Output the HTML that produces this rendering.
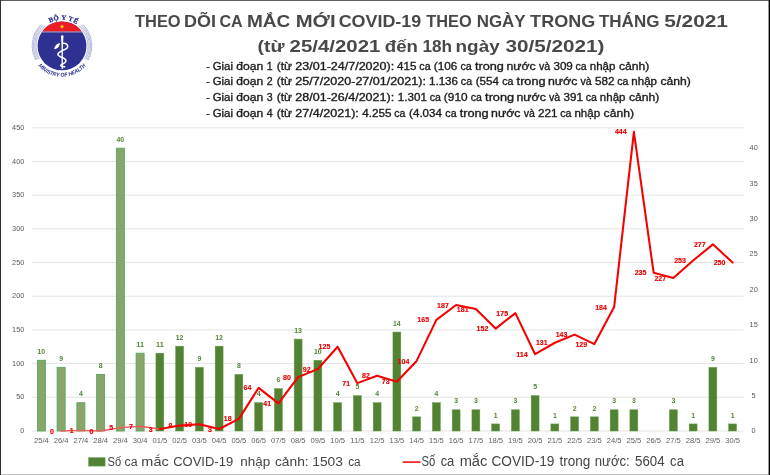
<!DOCTYPE html>
<html><head><meta charset="utf-8"><title>COVID-19</title>
<style>html,body{margin:0;padding:0;background:#fff;}body{width:770px;height:475px;overflow:hidden;position:relative;font-family:"Liberation Sans",sans-serif;}</style>
</head><body>
<svg width="770" height="475" viewBox="0 0 770 475" style="position:absolute;left:0;top:0;will-change:transform;opacity:0.999">
<rect x="0" y="0" width="770" height="475" fill="#fff"/>
<line x1="31.8" x2="743.6" y1="431.00" y2="431.00" stroke="#dcdcdc" stroke-width="0.8"/>
<text x="24.3" y="433.10" text-anchor="end" font-size="7.3" fill="#595959" font-family="Liberation Sans, sans-serif">0</text>
<line x1="31.8" x2="743.6" y1="397.31" y2="397.31" stroke="#dcdcdc" stroke-width="0.8"/>
<text x="24.3" y="399.41" text-anchor="end" font-size="7.3" fill="#595959" font-family="Liberation Sans, sans-serif">50</text>
<line x1="31.8" x2="743.6" y1="363.62" y2="363.62" stroke="#dcdcdc" stroke-width="0.8"/>
<text x="24.3" y="365.72" text-anchor="end" font-size="7.3" fill="#595959" font-family="Liberation Sans, sans-serif">100</text>
<line x1="31.8" x2="743.6" y1="329.93" y2="329.93" stroke="#dcdcdc" stroke-width="0.8"/>
<text x="24.3" y="332.03" text-anchor="end" font-size="7.3" fill="#595959" font-family="Liberation Sans, sans-serif">150</text>
<line x1="31.8" x2="743.6" y1="296.24" y2="296.24" stroke="#dcdcdc" stroke-width="0.8"/>
<text x="24.3" y="298.34" text-anchor="end" font-size="7.3" fill="#595959" font-family="Liberation Sans, sans-serif">200</text>
<line x1="31.8" x2="743.6" y1="262.56" y2="262.56" stroke="#dcdcdc" stroke-width="0.8"/>
<text x="24.3" y="264.66" text-anchor="end" font-size="7.3" fill="#595959" font-family="Liberation Sans, sans-serif">250</text>
<line x1="31.8" x2="743.6" y1="228.87" y2="228.87" stroke="#dcdcdc" stroke-width="0.8"/>
<text x="24.3" y="230.97" text-anchor="end" font-size="7.3" fill="#595959" font-family="Liberation Sans, sans-serif">300</text>
<line x1="31.8" x2="743.6" y1="195.18" y2="195.18" stroke="#dcdcdc" stroke-width="0.8"/>
<text x="24.3" y="197.28" text-anchor="end" font-size="7.3" fill="#595959" font-family="Liberation Sans, sans-serif">350</text>
<line x1="31.8" x2="743.6" y1="161.49" y2="161.49" stroke="#dcdcdc" stroke-width="0.8"/>
<text x="24.3" y="163.59" text-anchor="end" font-size="7.3" fill="#595959" font-family="Liberation Sans, sans-serif">400</text>
<line x1="31.8" x2="743.6" y1="127.80" y2="127.80" stroke="#dcdcdc" stroke-width="0.8"/>
<text x="24.3" y="129.90" text-anchor="end" font-size="7.3" fill="#595959" font-family="Liberation Sans, sans-serif">450</text>
<text x="751.6" y="433.20" font-size="7.3" fill="#595959" font-family="Liberation Sans, sans-serif">0</text>
<text x="751.6" y="397.85" font-size="7.3" fill="#595959" font-family="Liberation Sans, sans-serif">5</text>
<text x="749.6" y="362.50" font-size="7.3" fill="#595959" font-family="Liberation Sans, sans-serif">10</text>
<text x="749.6" y="327.15" font-size="7.3" fill="#595959" font-family="Liberation Sans, sans-serif">15</text>
<text x="749.6" y="291.80" font-size="7.3" fill="#595959" font-family="Liberation Sans, sans-serif">20</text>
<text x="749.6" y="256.45" font-size="7.3" fill="#595959" font-family="Liberation Sans, sans-serif">25</text>
<text x="749.6" y="221.10" font-size="7.3" fill="#595959" font-family="Liberation Sans, sans-serif">30</text>
<text x="749.6" y="185.75" font-size="7.3" fill="#595959" font-family="Liberation Sans, sans-serif">35</text>
<text x="749.6" y="150.40" font-size="7.3" fill="#595959" font-family="Liberation Sans, sans-serif">40</text>
<rect x="37.38" y="360.30" width="8.0" height="70.70" fill="#8aa56c" stroke="#56a862" stroke-width="0.9"/>
<text x="41.38" y="354.00" text-anchor="middle" textLength="7.70" lengthAdjust="spacingAndGlyphs" font-size="7.6" font-weight="bold" fill="#548235" font-family="Liberation Sans, sans-serif">10</text>
<rect x="57.12" y="367.37" width="8.0" height="63.63" fill="#8aa56c" stroke="#56a862" stroke-width="0.9"/>
<text x="61.12" y="361.07" text-anchor="middle" textLength="3.85" lengthAdjust="spacingAndGlyphs" font-size="7.6" font-weight="bold" fill="#548235" font-family="Liberation Sans, sans-serif">9</text>
<rect x="76.88" y="402.72" width="8.0" height="28.28" fill="#8aa56c" stroke="#56a862" stroke-width="0.9"/>
<text x="80.88" y="396.42" text-anchor="middle" textLength="3.85" lengthAdjust="spacingAndGlyphs" font-size="7.6" font-weight="bold" fill="#548235" font-family="Liberation Sans, sans-serif">4</text>
<rect x="96.62" y="374.44" width="8.0" height="56.56" fill="#8aa56c" stroke="#56a862" stroke-width="0.9"/>
<text x="100.62" y="368.14" text-anchor="middle" textLength="3.85" lengthAdjust="spacingAndGlyphs" font-size="7.6" font-weight="bold" fill="#548235" font-family="Liberation Sans, sans-serif">8</text>
<rect x="116.38" y="148.20" width="8.0" height="282.80" fill="#8aa56c" stroke="#56a862" stroke-width="0.9"/>
<text x="120.38" y="141.90" text-anchor="middle" textLength="7.70" lengthAdjust="spacingAndGlyphs" font-size="7.6" font-weight="bold" fill="#548235" font-family="Liberation Sans, sans-serif">40</text>
<rect x="136.12" y="353.23" width="8.0" height="77.77" fill="#8aa56c" stroke="#56a862" stroke-width="0.9"/>
<text x="140.12" y="346.93" text-anchor="middle" textLength="7.70" lengthAdjust="spacingAndGlyphs" font-size="7.6" font-weight="bold" fill="#548235" font-family="Liberation Sans, sans-serif">11</text>
<rect x="155.93" y="353.23" width="7.9" height="77.77" fill="#548235" stroke="#5f9a3c" stroke-width="0.5"/>
<text x="159.88" y="346.93" text-anchor="middle" textLength="7.70" lengthAdjust="spacingAndGlyphs" font-size="7.6" font-weight="bold" fill="#548235" font-family="Liberation Sans, sans-serif">11</text>
<rect x="175.68" y="346.16" width="7.9" height="84.84" fill="#548235" stroke="#5f9a3c" stroke-width="0.5"/>
<text x="179.62" y="339.86" text-anchor="middle" textLength="7.70" lengthAdjust="spacingAndGlyphs" font-size="7.6" font-weight="bold" fill="#548235" font-family="Liberation Sans, sans-serif">12</text>
<rect x="195.43" y="367.37" width="7.9" height="63.63" fill="#548235" stroke="#5f9a3c" stroke-width="0.5"/>
<text x="199.38" y="361.07" text-anchor="middle" textLength="3.85" lengthAdjust="spacingAndGlyphs" font-size="7.6" font-weight="bold" fill="#548235" font-family="Liberation Sans, sans-serif">9</text>
<rect x="215.18" y="346.16" width="7.9" height="84.84" fill="#548235" stroke="#5f9a3c" stroke-width="0.5"/>
<text x="219.12" y="339.86" text-anchor="middle" textLength="7.70" lengthAdjust="spacingAndGlyphs" font-size="7.6" font-weight="bold" fill="#548235" font-family="Liberation Sans, sans-serif">12</text>
<rect x="234.93" y="374.44" width="7.9" height="56.56" fill="#548235" stroke="#5f9a3c" stroke-width="0.5"/>
<text x="238.88" y="368.14" text-anchor="middle" textLength="3.85" lengthAdjust="spacingAndGlyphs" font-size="7.6" font-weight="bold" fill="#548235" font-family="Liberation Sans, sans-serif">8</text>
<rect x="254.68" y="402.72" width="7.9" height="28.28" fill="#548235" stroke="#5f9a3c" stroke-width="0.5"/>
<text x="258.62" y="396.42" text-anchor="middle" textLength="3.85" lengthAdjust="spacingAndGlyphs" font-size="7.6" font-weight="bold" fill="#548235" font-family="Liberation Sans, sans-serif">4</text>
<rect x="274.43" y="388.58" width="7.9" height="42.42" fill="#548235" stroke="#5f9a3c" stroke-width="0.5"/>
<text x="278.38" y="382.28" text-anchor="middle" textLength="3.85" lengthAdjust="spacingAndGlyphs" font-size="7.6" font-weight="bold" fill="#548235" font-family="Liberation Sans, sans-serif">6</text>
<rect x="294.18" y="339.09" width="7.9" height="91.91" fill="#548235" stroke="#5f9a3c" stroke-width="0.5"/>
<text x="298.12" y="332.79" text-anchor="middle" textLength="7.70" lengthAdjust="spacingAndGlyphs" font-size="7.6" font-weight="bold" fill="#548235" font-family="Liberation Sans, sans-serif">13</text>
<rect x="313.93" y="360.30" width="7.9" height="70.70" fill="#548235" stroke="#5f9a3c" stroke-width="0.5"/>
<text x="317.88" y="354.00" text-anchor="middle" textLength="7.70" lengthAdjust="spacingAndGlyphs" font-size="7.6" font-weight="bold" fill="#548235" font-family="Liberation Sans, sans-serif">10</text>
<rect x="333.68" y="402.72" width="7.9" height="28.28" fill="#548235" stroke="#5f9a3c" stroke-width="0.5"/>
<text x="337.62" y="396.42" text-anchor="middle" textLength="3.85" lengthAdjust="spacingAndGlyphs" font-size="7.6" font-weight="bold" fill="#548235" font-family="Liberation Sans, sans-serif">4</text>
<rect x="353.43" y="395.65" width="7.9" height="35.35" fill="#548235" stroke="#5f9a3c" stroke-width="0.5"/>
<text x="357.38" y="389.35" text-anchor="middle" textLength="3.85" lengthAdjust="spacingAndGlyphs" font-size="7.6" font-weight="bold" fill="#548235" font-family="Liberation Sans, sans-serif">5</text>
<rect x="373.18" y="402.72" width="7.9" height="28.28" fill="#548235" stroke="#5f9a3c" stroke-width="0.5"/>
<text x="377.12" y="396.42" text-anchor="middle" textLength="3.85" lengthAdjust="spacingAndGlyphs" font-size="7.6" font-weight="bold" fill="#548235" font-family="Liberation Sans, sans-serif">4</text>
<rect x="392.93" y="332.02" width="7.9" height="98.98" fill="#548235" stroke="#5f9a3c" stroke-width="0.5"/>
<text x="396.88" y="325.72" text-anchor="middle" textLength="7.70" lengthAdjust="spacingAndGlyphs" font-size="7.6" font-weight="bold" fill="#548235" font-family="Liberation Sans, sans-serif">14</text>
<rect x="412.68" y="416.86" width="7.9" height="14.14" fill="#548235" stroke="#5f9a3c" stroke-width="0.5"/>
<text x="416.62" y="410.56" text-anchor="middle" textLength="3.85" lengthAdjust="spacingAndGlyphs" font-size="7.6" font-weight="bold" fill="#548235" font-family="Liberation Sans, sans-serif">2</text>
<rect x="432.43" y="402.72" width="7.9" height="28.28" fill="#548235" stroke="#5f9a3c" stroke-width="0.5"/>
<text x="436.38" y="396.42" text-anchor="middle" textLength="3.85" lengthAdjust="spacingAndGlyphs" font-size="7.6" font-weight="bold" fill="#548235" font-family="Liberation Sans, sans-serif">4</text>
<rect x="452.18" y="409.79" width="7.9" height="21.21" fill="#548235" stroke="#5f9a3c" stroke-width="0.5"/>
<text x="456.12" y="403.49" text-anchor="middle" textLength="3.85" lengthAdjust="spacingAndGlyphs" font-size="7.6" font-weight="bold" fill="#548235" font-family="Liberation Sans, sans-serif">3</text>
<rect x="471.93" y="409.79" width="7.9" height="21.21" fill="#548235" stroke="#5f9a3c" stroke-width="0.5"/>
<text x="475.88" y="403.49" text-anchor="middle" textLength="3.85" lengthAdjust="spacingAndGlyphs" font-size="7.6" font-weight="bold" fill="#548235" font-family="Liberation Sans, sans-serif">3</text>
<rect x="491.68" y="423.93" width="7.9" height="7.07" fill="#548235" stroke="#5f9a3c" stroke-width="0.5"/>
<text x="495.62" y="417.63" text-anchor="middle" textLength="3.85" lengthAdjust="spacingAndGlyphs" font-size="7.6" font-weight="bold" fill="#548235" font-family="Liberation Sans, sans-serif">1</text>
<rect x="511.43" y="409.79" width="7.9" height="21.21" fill="#548235" stroke="#5f9a3c" stroke-width="0.5"/>
<text x="515.38" y="403.49" text-anchor="middle" textLength="3.85" lengthAdjust="spacingAndGlyphs" font-size="7.6" font-weight="bold" fill="#548235" font-family="Liberation Sans, sans-serif">3</text>
<rect x="531.17" y="395.65" width="7.9" height="35.35" fill="#548235" stroke="#5f9a3c" stroke-width="0.5"/>
<text x="535.12" y="389.35" text-anchor="middle" textLength="3.85" lengthAdjust="spacingAndGlyphs" font-size="7.6" font-weight="bold" fill="#548235" font-family="Liberation Sans, sans-serif">5</text>
<rect x="550.92" y="423.93" width="7.9" height="7.07" fill="#548235" stroke="#5f9a3c" stroke-width="0.5"/>
<text x="554.88" y="417.63" text-anchor="middle" textLength="3.85" lengthAdjust="spacingAndGlyphs" font-size="7.6" font-weight="bold" fill="#548235" font-family="Liberation Sans, sans-serif">1</text>
<rect x="570.67" y="416.86" width="7.9" height="14.14" fill="#548235" stroke="#5f9a3c" stroke-width="0.5"/>
<text x="574.62" y="410.56" text-anchor="middle" textLength="3.85" lengthAdjust="spacingAndGlyphs" font-size="7.6" font-weight="bold" fill="#548235" font-family="Liberation Sans, sans-serif">2</text>
<rect x="590.42" y="416.86" width="7.9" height="14.14" fill="#548235" stroke="#5f9a3c" stroke-width="0.5"/>
<text x="594.38" y="410.56" text-anchor="middle" textLength="3.85" lengthAdjust="spacingAndGlyphs" font-size="7.6" font-weight="bold" fill="#548235" font-family="Liberation Sans, sans-serif">2</text>
<rect x="610.17" y="409.79" width="7.9" height="21.21" fill="#548235" stroke="#5f9a3c" stroke-width="0.5"/>
<text x="614.12" y="403.49" text-anchor="middle" textLength="3.85" lengthAdjust="spacingAndGlyphs" font-size="7.6" font-weight="bold" fill="#548235" font-family="Liberation Sans, sans-serif">3</text>
<rect x="629.92" y="409.79" width="7.9" height="21.21" fill="#548235" stroke="#5f9a3c" stroke-width="0.5"/>
<text x="633.88" y="403.49" text-anchor="middle" textLength="3.85" lengthAdjust="spacingAndGlyphs" font-size="7.6" font-weight="bold" fill="#548235" font-family="Liberation Sans, sans-serif">3</text>
<rect x="669.42" y="409.79" width="7.9" height="21.21" fill="#548235" stroke="#5f9a3c" stroke-width="0.5"/>
<text x="673.38" y="403.49" text-anchor="middle" textLength="3.85" lengthAdjust="spacingAndGlyphs" font-size="7.6" font-weight="bold" fill="#548235" font-family="Liberation Sans, sans-serif">3</text>
<rect x="689.17" y="423.93" width="7.9" height="7.07" fill="#548235" stroke="#5f9a3c" stroke-width="0.5"/>
<text x="693.12" y="417.63" text-anchor="middle" textLength="3.85" lengthAdjust="spacingAndGlyphs" font-size="7.6" font-weight="bold" fill="#548235" font-family="Liberation Sans, sans-serif">1</text>
<rect x="708.92" y="367.37" width="7.9" height="63.63" fill="#548235" stroke="#5f9a3c" stroke-width="0.5"/>
<text x="712.88" y="361.07" text-anchor="middle" textLength="3.85" lengthAdjust="spacingAndGlyphs" font-size="7.6" font-weight="bold" fill="#548235" font-family="Liberation Sans, sans-serif">9</text>
<rect x="728.67" y="423.93" width="7.9" height="7.07" fill="#548235" stroke="#5f9a3c" stroke-width="0.5"/>
<text x="732.62" y="417.63" text-anchor="middle" textLength="3.85" lengthAdjust="spacingAndGlyphs" font-size="7.6" font-weight="bold" fill="#548235" font-family="Liberation Sans, sans-serif">1</text>
<text x="41.38" y="443.2" text-anchor="middle" font-size="7.6" fill="#5e5e5e" font-family="Liberation Sans, sans-serif">25/4</text>
<text x="61.12" y="443.2" text-anchor="middle" font-size="7.6" fill="#5e5e5e" font-family="Liberation Sans, sans-serif">26/4</text>
<text x="80.88" y="443.2" text-anchor="middle" font-size="7.6" fill="#5e5e5e" font-family="Liberation Sans, sans-serif">27/4</text>
<text x="100.62" y="443.2" text-anchor="middle" font-size="7.6" fill="#5e5e5e" font-family="Liberation Sans, sans-serif">28/4</text>
<text x="120.38" y="443.2" text-anchor="middle" font-size="7.6" fill="#5e5e5e" font-family="Liberation Sans, sans-serif">29/4</text>
<text x="140.12" y="443.2" text-anchor="middle" font-size="7.6" fill="#5e5e5e" font-family="Liberation Sans, sans-serif">30/4</text>
<text x="159.88" y="443.2" text-anchor="middle" font-size="7.6" fill="#5e5e5e" font-family="Liberation Sans, sans-serif">01/5</text>
<text x="179.62" y="443.2" text-anchor="middle" font-size="7.6" fill="#5e5e5e" font-family="Liberation Sans, sans-serif">02/5</text>
<text x="199.38" y="443.2" text-anchor="middle" font-size="7.6" fill="#5e5e5e" font-family="Liberation Sans, sans-serif">03/5</text>
<text x="219.12" y="443.2" text-anchor="middle" font-size="7.6" fill="#5e5e5e" font-family="Liberation Sans, sans-serif">04/5</text>
<text x="238.88" y="443.2" text-anchor="middle" font-size="7.6" fill="#5e5e5e" font-family="Liberation Sans, sans-serif">05/5</text>
<text x="258.62" y="443.2" text-anchor="middle" font-size="7.6" fill="#5e5e5e" font-family="Liberation Sans, sans-serif">06/5</text>
<text x="278.38" y="443.2" text-anchor="middle" font-size="7.6" fill="#5e5e5e" font-family="Liberation Sans, sans-serif">07/5</text>
<text x="298.12" y="443.2" text-anchor="middle" font-size="7.6" fill="#5e5e5e" font-family="Liberation Sans, sans-serif">08/5</text>
<text x="317.88" y="443.2" text-anchor="middle" font-size="7.6" fill="#5e5e5e" font-family="Liberation Sans, sans-serif">09/5</text>
<text x="337.62" y="443.2" text-anchor="middle" font-size="7.6" fill="#5e5e5e" font-family="Liberation Sans, sans-serif">10/5</text>
<text x="357.38" y="443.2" text-anchor="middle" font-size="7.6" fill="#5e5e5e" font-family="Liberation Sans, sans-serif">11/5</text>
<text x="377.12" y="443.2" text-anchor="middle" font-size="7.6" fill="#5e5e5e" font-family="Liberation Sans, sans-serif">12/5</text>
<text x="396.88" y="443.2" text-anchor="middle" font-size="7.6" fill="#5e5e5e" font-family="Liberation Sans, sans-serif">13/5</text>
<text x="416.62" y="443.2" text-anchor="middle" font-size="7.6" fill="#5e5e5e" font-family="Liberation Sans, sans-serif">14/5</text>
<text x="436.38" y="443.2" text-anchor="middle" font-size="7.6" fill="#5e5e5e" font-family="Liberation Sans, sans-serif">15/5</text>
<text x="456.12" y="443.2" text-anchor="middle" font-size="7.6" fill="#5e5e5e" font-family="Liberation Sans, sans-serif">16/5</text>
<text x="475.88" y="443.2" text-anchor="middle" font-size="7.6" fill="#5e5e5e" font-family="Liberation Sans, sans-serif">17/5</text>
<text x="495.62" y="443.2" text-anchor="middle" font-size="7.6" fill="#5e5e5e" font-family="Liberation Sans, sans-serif">18/5</text>
<text x="515.38" y="443.2" text-anchor="middle" font-size="7.6" fill="#5e5e5e" font-family="Liberation Sans, sans-serif">19/5</text>
<text x="535.12" y="443.2" text-anchor="middle" font-size="7.6" fill="#5e5e5e" font-family="Liberation Sans, sans-serif">20/5</text>
<text x="554.88" y="443.2" text-anchor="middle" font-size="7.6" fill="#5e5e5e" font-family="Liberation Sans, sans-serif">21/5</text>
<text x="574.62" y="443.2" text-anchor="middle" font-size="7.6" fill="#5e5e5e" font-family="Liberation Sans, sans-serif">22/5</text>
<text x="594.38" y="443.2" text-anchor="middle" font-size="7.6" fill="#5e5e5e" font-family="Liberation Sans, sans-serif">23/5</text>
<text x="614.12" y="443.2" text-anchor="middle" font-size="7.6" fill="#5e5e5e" font-family="Liberation Sans, sans-serif">24/5</text>
<text x="633.88" y="443.2" text-anchor="middle" font-size="7.6" fill="#5e5e5e" font-family="Liberation Sans, sans-serif">25/5</text>
<text x="653.62" y="443.2" text-anchor="middle" font-size="7.6" fill="#5e5e5e" font-family="Liberation Sans, sans-serif">26/5</text>
<text x="673.38" y="443.2" text-anchor="middle" font-size="7.6" fill="#5e5e5e" font-family="Liberation Sans, sans-serif">27/5</text>
<text x="693.12" y="443.2" text-anchor="middle" font-size="7.6" fill="#5e5e5e" font-family="Liberation Sans, sans-serif">28/5</text>
<text x="712.88" y="443.2" text-anchor="middle" font-size="7.6" fill="#5e5e5e" font-family="Liberation Sans, sans-serif">29/5</text>
<text x="732.62" y="443.2" text-anchor="middle" font-size="7.6" fill="#5e5e5e" font-family="Liberation Sans, sans-serif">30/5</text>
<polyline fill="none" stroke="#f25a5a" stroke-width="1.4" stroke-linejoin="round" stroke-linecap="round" points="61.12,431.00 80.88,430.33 100.62,431.00 120.38,427.63 140.12,426.28 159.88,428.98"/>
<polyline fill="none" stroke="#f40000" stroke-width="2.05" stroke-linejoin="round" stroke-linecap="round" points="159.88,428.98 179.62,425.61 199.38,424.26 219.12,428.98 238.88,418.87 258.62,387.88 278.38,403.38 298.12,377.10 317.88,369.01 337.62,346.78 357.38,383.16 377.12,375.75 396.88,381.81 416.62,360.93 436.38,319.83 456.12,305.00 475.88,309.05 495.62,328.59 515.38,313.09 535.12,354.19 554.88,342.74 574.62,334.65 594.38,344.08 614.12,307.02 633.88,131.84 653.62,272.66 673.38,278.05 693.12,260.53 712.88,244.36 732.62,262.56"/>
<text x="53.83" y="433.60" text-anchor="end" textLength="3.90" lengthAdjust="spacingAndGlyphs" font-size="7.7" font-weight="bold" fill="#e80000" stroke="#e80000" stroke-width="0.15" font-family="Liberation Sans, sans-serif">0</text>
<text x="73.58" y="432.93" text-anchor="end" textLength="3.90" lengthAdjust="spacingAndGlyphs" font-size="7.7" font-weight="bold" fill="#e80000" stroke="#e80000" stroke-width="0.15" font-family="Liberation Sans, sans-serif">1</text>
<text x="93.33" y="433.60" text-anchor="end" textLength="3.90" lengthAdjust="spacingAndGlyphs" font-size="7.7" font-weight="bold" fill="#e80000" stroke="#e80000" stroke-width="0.15" font-family="Liberation Sans, sans-serif">0</text>
<text x="113.08" y="430.23" text-anchor="end" textLength="3.90" lengthAdjust="spacingAndGlyphs" font-size="7.7" font-weight="bold" fill="#e80000" stroke="#e80000" stroke-width="0.15" font-family="Liberation Sans, sans-serif">5</text>
<text x="132.82" y="428.88" text-anchor="end" textLength="3.90" lengthAdjust="spacingAndGlyphs" font-size="7.7" font-weight="bold" fill="#e80000" stroke="#e80000" stroke-width="0.15" font-family="Liberation Sans, sans-serif">7</text>
<text x="152.57" y="431.58" text-anchor="end" textLength="3.90" lengthAdjust="spacingAndGlyphs" font-size="7.7" font-weight="bold" fill="#e80000" stroke="#e80000" stroke-width="0.15" font-family="Liberation Sans, sans-serif">3</text>
<text x="172.32" y="428.21" text-anchor="end" textLength="3.90" lengthAdjust="spacingAndGlyphs" font-size="7.7" font-weight="bold" fill="#e80000" stroke="#e80000" stroke-width="0.15" font-family="Liberation Sans, sans-serif">8</text>
<text x="192.07" y="426.86" text-anchor="end" textLength="7.80" lengthAdjust="spacingAndGlyphs" font-size="7.7" font-weight="bold" fill="#e80000" stroke="#e80000" stroke-width="0.15" font-family="Liberation Sans, sans-serif">10</text>
<text x="211.82" y="431.58" text-anchor="end" textLength="3.90" lengthAdjust="spacingAndGlyphs" font-size="7.7" font-weight="bold" fill="#e80000" stroke="#e80000" stroke-width="0.15" font-family="Liberation Sans, sans-serif">3</text>
<text x="231.57" y="421.47" text-anchor="end" textLength="7.80" lengthAdjust="spacingAndGlyphs" font-size="7.7" font-weight="bold" fill="#e80000" stroke="#e80000" stroke-width="0.15" font-family="Liberation Sans, sans-serif">18</text>
<text x="251.32" y="390.48" text-anchor="end" textLength="7.80" lengthAdjust="spacingAndGlyphs" font-size="7.7" font-weight="bold" fill="#e80000" stroke="#e80000" stroke-width="0.15" font-family="Liberation Sans, sans-serif">64</text>
<text x="271.07" y="405.98" text-anchor="end" textLength="7.80" lengthAdjust="spacingAndGlyphs" font-size="7.7" font-weight="bold" fill="#e80000" stroke="#e80000" stroke-width="0.15" font-family="Liberation Sans, sans-serif">41</text>
<text x="290.82" y="379.70" text-anchor="end" textLength="7.80" lengthAdjust="spacingAndGlyphs" font-size="7.7" font-weight="bold" fill="#e80000" stroke="#e80000" stroke-width="0.15" font-family="Liberation Sans, sans-serif">80</text>
<text x="310.57" y="371.61" text-anchor="end" textLength="7.80" lengthAdjust="spacingAndGlyphs" font-size="7.7" font-weight="bold" fill="#e80000" stroke="#e80000" stroke-width="0.15" font-family="Liberation Sans, sans-serif">92</text>
<text x="330.32" y="349.38" text-anchor="end" textLength="11.70" lengthAdjust="spacingAndGlyphs" font-size="7.7" font-weight="bold" fill="#e80000" stroke="#e80000" stroke-width="0.15" font-family="Liberation Sans, sans-serif">125</text>
<text x="350.07" y="385.76" text-anchor="end" textLength="7.80" lengthAdjust="spacingAndGlyphs" font-size="7.7" font-weight="bold" fill="#e80000" stroke="#e80000" stroke-width="0.15" font-family="Liberation Sans, sans-serif">71</text>
<text x="369.82" y="378.35" text-anchor="end" textLength="7.80" lengthAdjust="spacingAndGlyphs" font-size="7.7" font-weight="bold" fill="#e80000" stroke="#e80000" stroke-width="0.15" font-family="Liberation Sans, sans-serif">82</text>
<text x="389.57" y="384.41" text-anchor="end" textLength="7.80" lengthAdjust="spacingAndGlyphs" font-size="7.7" font-weight="bold" fill="#e80000" stroke="#e80000" stroke-width="0.15" font-family="Liberation Sans, sans-serif">73</text>
<text x="409.32" y="363.53" text-anchor="end" textLength="11.70" lengthAdjust="spacingAndGlyphs" font-size="7.7" font-weight="bold" fill="#e80000" stroke="#e80000" stroke-width="0.15" font-family="Liberation Sans, sans-serif">104</text>
<text x="429.07" y="322.43" text-anchor="end" textLength="11.70" lengthAdjust="spacingAndGlyphs" font-size="7.7" font-weight="bold" fill="#e80000" stroke="#e80000" stroke-width="0.15" font-family="Liberation Sans, sans-serif">165</text>
<text x="448.82" y="307.60" text-anchor="end" textLength="11.70" lengthAdjust="spacingAndGlyphs" font-size="7.7" font-weight="bold" fill="#e80000" stroke="#e80000" stroke-width="0.15" font-family="Liberation Sans, sans-serif">187</text>
<text x="468.57" y="311.65" text-anchor="end" textLength="11.70" lengthAdjust="spacingAndGlyphs" font-size="7.7" font-weight="bold" fill="#e80000" stroke="#e80000" stroke-width="0.15" font-family="Liberation Sans, sans-serif">181</text>
<text x="488.32" y="331.19" text-anchor="end" textLength="11.70" lengthAdjust="spacingAndGlyphs" font-size="7.7" font-weight="bold" fill="#e80000" stroke="#e80000" stroke-width="0.15" font-family="Liberation Sans, sans-serif">152</text>
<text x="508.07" y="315.69" text-anchor="end" textLength="11.70" lengthAdjust="spacingAndGlyphs" font-size="7.7" font-weight="bold" fill="#e80000" stroke="#e80000" stroke-width="0.15" font-family="Liberation Sans, sans-serif">175</text>
<text x="527.83" y="356.79" text-anchor="end" textLength="11.70" lengthAdjust="spacingAndGlyphs" font-size="7.7" font-weight="bold" fill="#e80000" stroke="#e80000" stroke-width="0.15" font-family="Liberation Sans, sans-serif">114</text>
<text x="547.58" y="345.34" text-anchor="end" textLength="11.70" lengthAdjust="spacingAndGlyphs" font-size="7.7" font-weight="bold" fill="#e80000" stroke="#e80000" stroke-width="0.15" font-family="Liberation Sans, sans-serif">131</text>
<text x="567.33" y="337.25" text-anchor="end" textLength="11.70" lengthAdjust="spacingAndGlyphs" font-size="7.7" font-weight="bold" fill="#e80000" stroke="#e80000" stroke-width="0.15" font-family="Liberation Sans, sans-serif">143</text>
<text x="587.08" y="346.68" text-anchor="end" textLength="11.70" lengthAdjust="spacingAndGlyphs" font-size="7.7" font-weight="bold" fill="#e80000" stroke="#e80000" stroke-width="0.15" font-family="Liberation Sans, sans-serif">129</text>
<text x="606.83" y="309.62" text-anchor="end" textLength="11.70" lengthAdjust="spacingAndGlyphs" font-size="7.7" font-weight="bold" fill="#e80000" stroke="#e80000" stroke-width="0.15" font-family="Liberation Sans, sans-serif">184</text>
<text x="626.58" y="134.44" text-anchor="end" textLength="11.70" lengthAdjust="spacingAndGlyphs" font-size="7.7" font-weight="bold" fill="#e80000" stroke="#e80000" stroke-width="0.15" font-family="Liberation Sans, sans-serif">444</text>
<text x="646.33" y="275.26" text-anchor="end" textLength="11.70" lengthAdjust="spacingAndGlyphs" font-size="7.7" font-weight="bold" fill="#e80000" stroke="#e80000" stroke-width="0.15" font-family="Liberation Sans, sans-serif">235</text>
<text x="666.08" y="280.65" text-anchor="end" textLength="11.70" lengthAdjust="spacingAndGlyphs" font-size="7.7" font-weight="bold" fill="#e80000" stroke="#e80000" stroke-width="0.15" font-family="Liberation Sans, sans-serif">227</text>
<text x="685.83" y="263.13" text-anchor="end" textLength="11.70" lengthAdjust="spacingAndGlyphs" font-size="7.7" font-weight="bold" fill="#e80000" stroke="#e80000" stroke-width="0.15" font-family="Liberation Sans, sans-serif">253</text>
<text x="705.58" y="246.96" text-anchor="end" textLength="11.70" lengthAdjust="spacingAndGlyphs" font-size="7.7" font-weight="bold" fill="#e80000" stroke="#e80000" stroke-width="0.15" font-family="Liberation Sans, sans-serif">277</text>
<text x="725.33" y="265.16" text-anchor="end" textLength="11.70" lengthAdjust="spacingAndGlyphs" font-size="7.7" font-weight="bold" fill="#e80000" stroke="#e80000" stroke-width="0.15" font-family="Liberation Sans, sans-serif">250</text>
<text x="135.04" y="27.1" textLength="45.57" lengthAdjust="spacingAndGlyphs" font-size="16.3" font-weight="bold" fill="#484848"  font-family="Liberation Sans, sans-serif">THEO</text>
<text x="184.13" y="27.1" textLength="31.99" lengthAdjust="spacingAndGlyphs" font-size="16.3" font-weight="bold" fill="#484848"  font-family="Liberation Sans, sans-serif">DÕI</text>
<text x="219.46" y="27.1" textLength="23.22" lengthAdjust="spacingAndGlyphs" font-size="16.3" font-weight="bold" fill="#484848"  font-family="Liberation Sans, sans-serif">CA</text>
<text x="246.97" y="27.1" textLength="43.26" lengthAdjust="spacingAndGlyphs" font-size="16.3" font-weight="bold" fill="#484848"  font-family="Liberation Sans, sans-serif">MẮC</text>
<text x="295.68" y="27.1" textLength="39.92" lengthAdjust="spacingAndGlyphs" font-size="16.3" font-weight="bold" fill="#484848"  font-family="Liberation Sans, sans-serif">MỚI</text>
<text x="338.68" y="27.1" textLength="82.59" lengthAdjust="spacingAndGlyphs" font-size="16.3" font-weight="bold" fill="#484848"  font-family="Liberation Sans, sans-serif">COVID-19</text>
<text x="426.24" y="27.1" textLength="45.47" lengthAdjust="spacingAndGlyphs" font-size="16.3" font-weight="bold" fill="#484848"  font-family="Liberation Sans, sans-serif">THEO</text>
<text x="476.70" y="27.1" textLength="48.93" lengthAdjust="spacingAndGlyphs" font-size="16.3" font-weight="bold" fill="#484848"  font-family="Liberation Sans, sans-serif">NGÀY</text>
<text x="530.12" y="27.1" textLength="65.18" lengthAdjust="spacingAndGlyphs" font-size="16.3" font-weight="bold" fill="#484848"  font-family="Liberation Sans, sans-serif">TRONG</text>
<text x="598.93" y="27.1" textLength="60.48" lengthAdjust="spacingAndGlyphs" font-size="16.3" font-weight="bold" fill="#484848"  font-family="Liberation Sans, sans-serif">THÁNG</text>
<text x="664.17" y="27.1" textLength="63.82" lengthAdjust="spacingAndGlyphs" font-size="16.3" font-weight="bold" fill="#484848"  font-family="Liberation Sans, sans-serif">5/2021</text>
<text x="257.63" y="52.4" textLength="26.87" lengthAdjust="spacingAndGlyphs" font-size="16.3" font-weight="bold" fill="#484848"  font-family="Liberation Sans, sans-serif">(từ</text>
<text x="289.59" y="52.4" textLength="90.80" lengthAdjust="spacingAndGlyphs" font-size="16.3" font-weight="bold" fill="#484848"  font-family="Liberation Sans, sans-serif">25/4/2021</text>
<text x="384.85" y="52.4" textLength="33.12" lengthAdjust="spacingAndGlyphs" font-size="16.3" font-weight="bold" fill="#484848"  font-family="Liberation Sans, sans-serif">đến</text>
<text x="422.47" y="52.4" textLength="29.62" lengthAdjust="spacingAndGlyphs" font-size="16.3" font-weight="bold" fill="#484848"  font-family="Liberation Sans, sans-serif">18h</text>
<text x="455.57" y="52.4" textLength="44.11" lengthAdjust="spacingAndGlyphs" font-size="16.3" font-weight="bold" fill="#484848"  font-family="Liberation Sans, sans-serif">ngày</text>
<text x="505.58" y="52.4" textLength="98.89" lengthAdjust="spacingAndGlyphs" font-size="16.3" font-weight="bold" fill="#484848"  font-family="Liberation Sans, sans-serif">30/5/2021)</text>
<text x="206.37" y="69.5" textLength="3.53" lengthAdjust="spacingAndGlyphs" font-size="10.6" fill="#1c1c1c" stroke="#1c1c1c" stroke-width="0.34" font-family="Liberation Sans, sans-serif">-</text>
<text x="212.73" y="69.5" textLength="20.25" lengthAdjust="spacingAndGlyphs" font-size="10.6" fill="#1c1c1c" stroke="#1c1c1c" stroke-width="0.34" font-family="Liberation Sans, sans-serif">Giai</text>
<text x="236.22" y="69.5" textLength="26.97" lengthAdjust="spacingAndGlyphs" font-size="10.6" fill="#1c1c1c" stroke="#1c1c1c" stroke-width="0.34" font-family="Liberation Sans, sans-serif">đoạn</text>
<text x="276.68" y="69.5" textLength="15.28" lengthAdjust="spacingAndGlyphs" font-size="10.6" fill="#1c1c1c" stroke="#1c1c1c" stroke-width="0.34" font-family="Liberation Sans, sans-serif">(từ</text>
<text x="295.37" y="69.5" textLength="98.75" lengthAdjust="spacingAndGlyphs" font-size="10.6" fill="#1c1c1c" stroke="#1c1c1c" stroke-width="0.34" font-family="Liberation Sans, sans-serif">23/01-24/7/2020):</text>
<text x="396.97" y="69.5" textLength="19.44" lengthAdjust="spacingAndGlyphs" font-size="10.6" fill="#1c1c1c" stroke="#1c1c1c" stroke-width="0.34" font-family="Liberation Sans, sans-serif">415</text>
<text x="419.35" y="69.5" textLength="11.20" lengthAdjust="spacingAndGlyphs" font-size="10.6" fill="#1c1c1c" stroke="#1c1c1c" stroke-width="0.34" font-family="Liberation Sans, sans-serif">ca</text>
<text x="433.80" y="69.5" textLength="23.49" lengthAdjust="spacingAndGlyphs" font-size="10.6" fill="#1c1c1c" stroke="#1c1c1c" stroke-width="0.34" font-family="Liberation Sans, sans-serif">(106</text>
<text x="460.45" y="69.5" textLength="11.20" lengthAdjust="spacingAndGlyphs" font-size="10.6" fill="#1c1c1c" stroke="#1c1c1c" stroke-width="0.34" font-family="Liberation Sans, sans-serif">ca</text>
<text x="475.01" y="69.5" textLength="28.94" lengthAdjust="spacingAndGlyphs" font-size="10.6" fill="#1c1c1c" stroke="#1c1c1c" stroke-width="0.34" font-family="Liberation Sans, sans-serif">trong</text>
<text x="506.40" y="69.5" textLength="29.33" lengthAdjust="spacingAndGlyphs" font-size="10.6" fill="#1c1c1c" stroke="#1c1c1c" stroke-width="0.34" font-family="Liberation Sans, sans-serif">nước</text>
<text x="538.98" y="69.5" textLength="11.20" lengthAdjust="spacingAndGlyphs" font-size="10.6" fill="#1c1c1c" stroke="#1c1c1c" stroke-width="0.34" font-family="Liberation Sans, sans-serif">và</text>
<text x="553.43" y="69.5" textLength="19.43" lengthAdjust="spacingAndGlyphs" font-size="10.6" fill="#1c1c1c" stroke="#1c1c1c" stroke-width="0.34" font-family="Liberation Sans, sans-serif">309</text>
<text x="575.55" y="69.5" textLength="11.20" lengthAdjust="spacingAndGlyphs" font-size="10.6" fill="#1c1c1c" stroke="#1c1c1c" stroke-width="0.34" font-family="Liberation Sans, sans-serif">ca</text>
<text x="589.75" y="69.5" textLength="25.60" lengthAdjust="spacingAndGlyphs" font-size="10.6" fill="#1c1c1c" stroke="#1c1c1c" stroke-width="0.34" font-family="Liberation Sans, sans-serif">nhập</text>
<text x="618.91" y="69.5" textLength="30.33" lengthAdjust="spacingAndGlyphs" font-size="10.6" fill="#1c1c1c" stroke="#1c1c1c" stroke-width="0.34" font-family="Liberation Sans, sans-serif">cảnh)</text>
<text x="269.6" y="69.5" text-anchor="middle" font-size="10.6" fill="#1c1c1c" stroke="#1c1c1c" stroke-width="0.34" font-family="Liberation Sans, sans-serif">1</text>
<text x="206.37" y="85.4" textLength="3.53" lengthAdjust="spacingAndGlyphs" font-size="10.6" fill="#1c1c1c" stroke="#1c1c1c" stroke-width="0.34" font-family="Liberation Sans, sans-serif">-</text>
<text x="212.73" y="85.4" textLength="20.25" lengthAdjust="spacingAndGlyphs" font-size="10.6" fill="#1c1c1c" stroke="#1c1c1c" stroke-width="0.34" font-family="Liberation Sans, sans-serif">Giai</text>
<text x="236.22" y="85.4" textLength="26.97" lengthAdjust="spacingAndGlyphs" font-size="10.6" fill="#1c1c1c" stroke="#1c1c1c" stroke-width="0.34" font-family="Liberation Sans, sans-serif">đoạn</text>
<text x="276.68" y="85.4" textLength="15.28" lengthAdjust="spacingAndGlyphs" font-size="10.6" fill="#1c1c1c" stroke="#1c1c1c" stroke-width="0.34" font-family="Liberation Sans, sans-serif">(từ</text>
<text x="295.37" y="85.4" textLength="130.53" lengthAdjust="spacingAndGlyphs" font-size="10.6" fill="#1c1c1c" stroke="#1c1c1c" stroke-width="0.34" font-family="Liberation Sans, sans-serif">25/7/2020-27/01/2021):</text>
<text x="428.93" y="85.4" textLength="29.17" lengthAdjust="spacingAndGlyphs" font-size="10.6" fill="#1c1c1c" stroke="#1c1c1c" stroke-width="0.34" font-family="Liberation Sans, sans-serif">1.136</text>
<text x="460.85" y="85.4" textLength="11.20" lengthAdjust="spacingAndGlyphs" font-size="10.6" fill="#1c1c1c" stroke="#1c1c1c" stroke-width="0.34" font-family="Liberation Sans, sans-serif">ca</text>
<text x="475.70" y="85.4" textLength="23.20" lengthAdjust="spacingAndGlyphs" font-size="10.6" fill="#1c1c1c" stroke="#1c1c1c" stroke-width="0.34" font-family="Liberation Sans, sans-serif">(554</text>
<text x="502.15" y="85.4" textLength="11.20" lengthAdjust="spacingAndGlyphs" font-size="10.6" fill="#1c1c1c" stroke="#1c1c1c" stroke-width="0.34" font-family="Liberation Sans, sans-serif">ca</text>
<text x="516.61" y="85.4" textLength="28.94" lengthAdjust="spacingAndGlyphs" font-size="10.6" fill="#1c1c1c" stroke="#1c1c1c" stroke-width="0.34" font-family="Liberation Sans, sans-serif">trong</text>
<text x="548.00" y="85.4" textLength="29.33" lengthAdjust="spacingAndGlyphs" font-size="10.6" fill="#1c1c1c" stroke="#1c1c1c" stroke-width="0.34" font-family="Liberation Sans, sans-serif">nước</text>
<text x="580.58" y="85.4" textLength="11.20" lengthAdjust="spacingAndGlyphs" font-size="10.6" fill="#1c1c1c" stroke="#1c1c1c" stroke-width="0.34" font-family="Liberation Sans, sans-serif">và</text>
<text x="595.03" y="85.4" textLength="19.49" lengthAdjust="spacingAndGlyphs" font-size="10.6" fill="#1c1c1c" stroke="#1c1c1c" stroke-width="0.34" font-family="Liberation Sans, sans-serif">582</text>
<text x="617.15" y="85.4" textLength="11.20" lengthAdjust="spacingAndGlyphs" font-size="10.6" fill="#1c1c1c" stroke="#1c1c1c" stroke-width="0.34" font-family="Liberation Sans, sans-serif">ca</text>
<text x="631.35" y="85.4" textLength="25.60" lengthAdjust="spacingAndGlyphs" font-size="10.6" fill="#1c1c1c" stroke="#1c1c1c" stroke-width="0.34" font-family="Liberation Sans, sans-serif">nhập</text>
<text x="660.51" y="85.4" textLength="30.33" lengthAdjust="spacingAndGlyphs" font-size="10.6" fill="#1c1c1c" stroke="#1c1c1c" stroke-width="0.34" font-family="Liberation Sans, sans-serif">cảnh)</text>
<text x="269.6" y="85.4" text-anchor="middle" font-size="10.6" fill="#1c1c1c" stroke="#1c1c1c" stroke-width="0.34" font-family="Liberation Sans, sans-serif">2</text>
<text x="206.37" y="101.1" textLength="3.53" lengthAdjust="spacingAndGlyphs" font-size="10.6" fill="#1c1c1c" stroke="#1c1c1c" stroke-width="0.34" font-family="Liberation Sans, sans-serif">-</text>
<text x="212.73" y="101.1" textLength="20.25" lengthAdjust="spacingAndGlyphs" font-size="10.6" fill="#1c1c1c" stroke="#1c1c1c" stroke-width="0.34" font-family="Liberation Sans, sans-serif">Giai</text>
<text x="236.22" y="101.1" textLength="26.97" lengthAdjust="spacingAndGlyphs" font-size="10.6" fill="#1c1c1c" stroke="#1c1c1c" stroke-width="0.34" font-family="Liberation Sans, sans-serif">đoạn</text>
<text x="276.68" y="101.1" textLength="15.28" lengthAdjust="spacingAndGlyphs" font-size="10.6" fill="#1c1c1c" stroke="#1c1c1c" stroke-width="0.34" font-family="Liberation Sans, sans-serif">(từ</text>
<text x="295.37" y="101.1" textLength="98.75" lengthAdjust="spacingAndGlyphs" font-size="10.6" fill="#1c1c1c" stroke="#1c1c1c" stroke-width="0.34" font-family="Liberation Sans, sans-serif">28/01-26/4/2021):</text>
<text x="397.83" y="101.1" textLength="29.02" lengthAdjust="spacingAndGlyphs" font-size="10.6" fill="#1c1c1c" stroke="#1c1c1c" stroke-width="0.34" font-family="Liberation Sans, sans-serif">1.301</text>
<text x="429.75" y="101.1" textLength="11.20" lengthAdjust="spacingAndGlyphs" font-size="10.6" fill="#1c1c1c" stroke="#1c1c1c" stroke-width="0.34" font-family="Liberation Sans, sans-serif">ca</text>
<text x="443.89" y="101.1" textLength="23.64" lengthAdjust="spacingAndGlyphs" font-size="10.6" fill="#1c1c1c" stroke="#1c1c1c" stroke-width="0.34" font-family="Liberation Sans, sans-serif">(910</text>
<text x="470.65" y="101.1" textLength="11.20" lengthAdjust="spacingAndGlyphs" font-size="10.6" fill="#1c1c1c" stroke="#1c1c1c" stroke-width="0.34" font-family="Liberation Sans, sans-serif">ca</text>
<text x="485.11" y="101.1" textLength="28.94" lengthAdjust="spacingAndGlyphs" font-size="10.6" fill="#1c1c1c" stroke="#1c1c1c" stroke-width="0.34" font-family="Liberation Sans, sans-serif">trong</text>
<text x="516.50" y="101.1" textLength="29.33" lengthAdjust="spacingAndGlyphs" font-size="10.6" fill="#1c1c1c" stroke="#1c1c1c" stroke-width="0.34" font-family="Liberation Sans, sans-serif">nước</text>
<text x="549.08" y="101.1" textLength="11.20" lengthAdjust="spacingAndGlyphs" font-size="10.6" fill="#1c1c1c" stroke="#1c1c1c" stroke-width="0.34" font-family="Liberation Sans, sans-serif">và</text>
<text x="563.53" y="101.1" textLength="19.43" lengthAdjust="spacingAndGlyphs" font-size="10.6" fill="#1c1c1c" stroke="#1c1c1c" stroke-width="0.34" font-family="Liberation Sans, sans-serif">391</text>
<text x="585.65" y="101.1" textLength="11.20" lengthAdjust="spacingAndGlyphs" font-size="10.6" fill="#1c1c1c" stroke="#1c1c1c" stroke-width="0.34" font-family="Liberation Sans, sans-serif">ca</text>
<text x="599.85" y="101.1" textLength="25.60" lengthAdjust="spacingAndGlyphs" font-size="10.6" fill="#1c1c1c" stroke="#1c1c1c" stroke-width="0.34" font-family="Liberation Sans, sans-serif">nhập</text>
<text x="629.01" y="101.1" textLength="30.33" lengthAdjust="spacingAndGlyphs" font-size="10.6" fill="#1c1c1c" stroke="#1c1c1c" stroke-width="0.34" font-family="Liberation Sans, sans-serif">cảnh)</text>
<text x="269.6" y="101.1" text-anchor="middle" font-size="10.6" fill="#1c1c1c" stroke="#1c1c1c" stroke-width="0.34" font-family="Liberation Sans, sans-serif">3</text>
<text x="206.37" y="116.7" textLength="3.53" lengthAdjust="spacingAndGlyphs" font-size="10.6" fill="#1c1c1c" stroke="#1c1c1c" stroke-width="0.34" font-family="Liberation Sans, sans-serif">-</text>
<text x="212.73" y="116.7" textLength="20.25" lengthAdjust="spacingAndGlyphs" font-size="10.6" fill="#1c1c1c" stroke="#1c1c1c" stroke-width="0.34" font-family="Liberation Sans, sans-serif">Giai</text>
<text x="236.22" y="116.7" textLength="26.97" lengthAdjust="spacingAndGlyphs" font-size="10.6" fill="#1c1c1c" stroke="#1c1c1c" stroke-width="0.34" font-family="Liberation Sans, sans-serif">đoạn</text>
<text x="276.68" y="116.7" textLength="15.28" lengthAdjust="spacingAndGlyphs" font-size="10.6" fill="#1c1c1c" stroke="#1c1c1c" stroke-width="0.34" font-family="Liberation Sans, sans-serif">(từ</text>
<text x="295.37" y="116.7" textLength="63.45" lengthAdjust="spacingAndGlyphs" font-size="10.6" fill="#1c1c1c" stroke="#1c1c1c" stroke-width="0.34" font-family="Liberation Sans, sans-serif">27/4/2021):</text>
<text x="362.17" y="116.7" textLength="29.23" lengthAdjust="spacingAndGlyphs" font-size="10.6" fill="#1c1c1c" stroke="#1c1c1c" stroke-width="0.34" font-family="Liberation Sans, sans-serif">4.255</text>
<text x="394.20" y="116.7" textLength="11.20" lengthAdjust="spacingAndGlyphs" font-size="10.6" fill="#1c1c1c" stroke="#1c1c1c" stroke-width="0.34" font-family="Liberation Sans, sans-serif">ca</text>
<text x="409.11" y="116.7" textLength="32.79" lengthAdjust="spacingAndGlyphs" font-size="10.6" fill="#1c1c1c" stroke="#1c1c1c" stroke-width="0.34" font-family="Liberation Sans, sans-serif">(4.034</text>
<text x="445.35" y="116.7" textLength="11.20" lengthAdjust="spacingAndGlyphs" font-size="10.6" fill="#1c1c1c" stroke="#1c1c1c" stroke-width="0.34" font-family="Liberation Sans, sans-serif">ca</text>
<text x="459.71" y="116.7" textLength="28.94" lengthAdjust="spacingAndGlyphs" font-size="10.6" fill="#1c1c1c" stroke="#1c1c1c" stroke-width="0.34" font-family="Liberation Sans, sans-serif">trong</text>
<text x="491.10" y="116.7" textLength="29.33" lengthAdjust="spacingAndGlyphs" font-size="10.6" fill="#1c1c1c" stroke="#1c1c1c" stroke-width="0.34" font-family="Liberation Sans, sans-serif">nước</text>
<text x="523.68" y="116.7" textLength="11.20" lengthAdjust="spacingAndGlyphs" font-size="10.6" fill="#1c1c1c" stroke="#1c1c1c" stroke-width="0.34" font-family="Liberation Sans, sans-serif">và</text>
<text x="538.01" y="116.7" textLength="19.55" lengthAdjust="spacingAndGlyphs" font-size="10.6" fill="#1c1c1c" stroke="#1c1c1c" stroke-width="0.34" font-family="Liberation Sans, sans-serif">221</text>
<text x="560.25" y="116.7" textLength="11.20" lengthAdjust="spacingAndGlyphs" font-size="10.6" fill="#1c1c1c" stroke="#1c1c1c" stroke-width="0.34" font-family="Liberation Sans, sans-serif">ca</text>
<text x="574.45" y="116.7" textLength="25.60" lengthAdjust="spacingAndGlyphs" font-size="10.6" fill="#1c1c1c" stroke="#1c1c1c" stroke-width="0.34" font-family="Liberation Sans, sans-serif">nhập</text>
<text x="603.61" y="116.7" textLength="30.33" lengthAdjust="spacingAndGlyphs" font-size="10.6" fill="#1c1c1c" stroke="#1c1c1c" stroke-width="0.34" font-family="Liberation Sans, sans-serif">cảnh)</text>
<text x="269.6" y="116.7" text-anchor="middle" font-size="10.6" fill="#1c1c1c" stroke="#1c1c1c" stroke-width="0.34" font-family="Liberation Sans, sans-serif">4</text>
<rect x="88.6" y="457.7" width="16.5" height="8.4" fill="#548235" stroke="#6aa85a" stroke-width="0.6"/>
<text x="107.55" y="466.3" textLength="13.61" lengthAdjust="spacingAndGlyphs" font-size="12.5" fill="#454545"  font-family="Liberation Sans, sans-serif">Số</text>
<text x="124.61" y="466.3" textLength="13.01" lengthAdjust="spacingAndGlyphs" font-size="12.5" fill="#454545"  font-family="Liberation Sans, sans-serif">ca</text>
<text x="141.36" y="466.3" textLength="27.29" lengthAdjust="spacingAndGlyphs" font-size="12.5" fill="#454545"  font-family="Liberation Sans, sans-serif">mắc</text>
<text x="173.25" y="466.3" textLength="59.86" lengthAdjust="spacingAndGlyphs" font-size="12.5" fill="#454545"  font-family="Liberation Sans, sans-serif">COVID-19</text>
<text x="240.33" y="466.3" textLength="29.91" lengthAdjust="spacingAndGlyphs" font-size="12.5" fill="#454545"  font-family="Liberation Sans, sans-serif">nhập</text>
<text x="274.95" y="466.3" textLength="33.74" lengthAdjust="spacingAndGlyphs" font-size="12.5" fill="#454545"  font-family="Liberation Sans, sans-serif">cảnh:</text>
<text x="312.27" y="466.3" textLength="30.68" lengthAdjust="spacingAndGlyphs" font-size="12.5" fill="#454545"  font-family="Liberation Sans, sans-serif">1503</text>
<text x="348.13" y="466.3" textLength="12.38" lengthAdjust="spacingAndGlyphs" font-size="12.5" fill="#454545"  font-family="Liberation Sans, sans-serif">ca</text>
<line x1="402.6" x2="420.5" y1="462.1" y2="462.1" stroke="#ee1111" stroke-width="1.6"/>
<text x="421.39" y="466.3" textLength="13.87" lengthAdjust="spacingAndGlyphs" font-size="14" fill="#454545"  font-family="Liberation Sans, sans-serif">Số</text>
<text x="440.68" y="466.3" textLength="13.63" lengthAdjust="spacingAndGlyphs" font-size="14" fill="#454545"  font-family="Liberation Sans, sans-serif">ca</text>
<text x="459.65" y="466.3" textLength="27.71" lengthAdjust="spacingAndGlyphs" font-size="14" fill="#454545"  font-family="Liberation Sans, sans-serif">mắc</text>
<text x="491.42" y="466.3" textLength="63.03" lengthAdjust="spacingAndGlyphs" font-size="14" fill="#454545"  font-family="Liberation Sans, sans-serif">COVID-19</text>
<text x="559.50" y="466.3" textLength="30.91" lengthAdjust="spacingAndGlyphs" font-size="14" fill="#454545"  font-family="Liberation Sans, sans-serif">trong</text>
<text x="594.74" y="466.3" textLength="35.03" lengthAdjust="spacingAndGlyphs" font-size="14" fill="#454545"  font-family="Liberation Sans, sans-serif">nước:</text>
<text x="635.07" y="466.3" textLength="29.46" lengthAdjust="spacingAndGlyphs" font-size="14" fill="#454545"  font-family="Liberation Sans, sans-serif">5604</text>
<text x="670.08" y="466.3" textLength="13.84" lengthAdjust="spacingAndGlyphs" font-size="14" fill="#454545"  font-family="Liberation Sans, sans-serif">ca</text>
<g>
<path d="M45.29,25.93 A26.00,26.00 0 0 0 39.48,58.85" fill="none" stroke="#9ca2d3" stroke-width="0.8"/>
<path d="M43.91,25.40 A27.30,27.30 0 0 0 38.24,59.29" fill="none" stroke="#9ca2d3" stroke-width="0.8"/>
<path d="M42.49,24.93 A28.60,28.60 0 0 0 36.99,59.72" fill="none" stroke="#9ca2d3" stroke-width="0.8"/>
<path d="M41.11,24.60 A29.80,29.80 0 0 0 35.81,60.07" fill="none" stroke="#9ca2d3" stroke-width="0.8"/>
<line x1="39.57" y1="57.77" x2="34.02" y2="57.73" stroke="#ffffff" stroke-width="0.45" opacity="0.6"/>
<line x1="38.45" y1="55.37" x2="32.93" y2="54.74" stroke="#ffffff" stroke-width="0.45" opacity="0.6"/>
<line x1="37.58" y1="52.85" x2="32.16" y2="51.65" stroke="#ffffff" stroke-width="0.45" opacity="0.6"/>
<line x1="36.99" y1="50.26" x2="31.72" y2="48.50" stroke="#ffffff" stroke-width="0.45" opacity="0.6"/>
<line x1="36.66" y1="47.62" x2="31.60" y2="45.32" stroke="#ffffff" stroke-width="0.45" opacity="0.6"/>
<line x1="36.62" y1="44.96" x2="31.83" y2="42.15" stroke="#ffffff" stroke-width="0.45" opacity="0.6"/>
<line x1="36.85" y1="42.32" x2="32.38" y2="39.01" stroke="#ffffff" stroke-width="0.45" opacity="0.6"/>
<line x1="37.35" y1="39.71" x2="33.26" y2="35.95" stroke="#ffffff" stroke-width="0.45" opacity="0.6"/>
<line x1="38.13" y1="37.16" x2="34.45" y2="33.00" stroke="#ffffff" stroke-width="0.45" opacity="0.6"/>
<line x1="39.17" y1="34.72" x2="35.94" y2="30.19" stroke="#ffffff" stroke-width="0.45" opacity="0.6"/>
<line x1="40.46" y1="32.39" x2="37.72" y2="27.55" stroke="#ffffff" stroke-width="0.45" opacity="0.6"/>
<line x1="41.98" y1="30.21" x2="39.77" y2="25.12" stroke="#ffffff" stroke-width="0.45" opacity="0.6"/>
<line x1="43.73" y1="28.21" x2="42.06" y2="22.91" stroke="#ffffff" stroke-width="0.45" opacity="0.6"/>
<path d="M78.71,25.93 A26.00,26.00 0 0 1 84.52,58.85" fill="none" stroke="#9ca2d3" stroke-width="0.8"/>
<path d="M80.09,25.40 A27.30,27.30 0 0 1 85.76,59.29" fill="none" stroke="#9ca2d3" stroke-width="0.8"/>
<path d="M81.51,24.93 A28.60,28.60 0 0 1 87.01,59.72" fill="none" stroke="#9ca2d3" stroke-width="0.8"/>
<path d="M82.89,24.60 A29.80,29.80 0 0 1 88.19,60.07" fill="none" stroke="#9ca2d3" stroke-width="0.8"/>
<line x1="84.43" y1="57.77" x2="89.98" y2="57.73" stroke="#ffffff" stroke-width="0.45" opacity="0.6"/>
<line x1="85.55" y1="55.37" x2="91.07" y2="54.74" stroke="#ffffff" stroke-width="0.45" opacity="0.6"/>
<line x1="86.42" y1="52.85" x2="91.84" y2="51.65" stroke="#ffffff" stroke-width="0.45" opacity="0.6"/>
<line x1="87.01" y1="50.26" x2="92.28" y2="48.50" stroke="#ffffff" stroke-width="0.45" opacity="0.6"/>
<line x1="87.34" y1="47.62" x2="92.40" y2="45.32" stroke="#ffffff" stroke-width="0.45" opacity="0.6"/>
<line x1="87.38" y1="44.96" x2="92.17" y2="42.15" stroke="#ffffff" stroke-width="0.45" opacity="0.6"/>
<line x1="87.15" y1="42.32" x2="91.62" y2="39.01" stroke="#ffffff" stroke-width="0.45" opacity="0.6"/>
<line x1="86.65" y1="39.71" x2="90.74" y2="35.95" stroke="#ffffff" stroke-width="0.45" opacity="0.6"/>
<line x1="85.87" y1="37.16" x2="89.55" y2="33.00" stroke="#ffffff" stroke-width="0.45" opacity="0.6"/>
<line x1="84.83" y1="34.72" x2="88.06" y2="30.19" stroke="#ffffff" stroke-width="0.45" opacity="0.6"/>
<line x1="83.54" y1="32.39" x2="86.28" y2="27.55" stroke="#ffffff" stroke-width="0.45" opacity="0.6"/>
<line x1="82.02" y1="30.21" x2="84.23" y2="25.12" stroke="#ffffff" stroke-width="0.45" opacity="0.6"/>
<line x1="80.27" y1="28.21" x2="81.94" y2="22.91" stroke="#ffffff" stroke-width="0.45" opacity="0.6"/>
<circle cx="62.0" cy="45.85" r="24.45" fill="#2e3192"/>
<path d="M42.13,31.6 A24.45,24.45 0 0 1 81.87,31.6 Z" fill="#ed1c24"/>
<line x1="41.83" x2="82.17" y1="31.950000000000003" y2="31.950000000000003" stroke="#f4d9e4" stroke-width="0.7"/>
<polygon points="62.00,24.30 62.54,25.86 64.19,25.89 62.87,26.88 63.35,28.46 62.00,27.52 60.65,28.46 61.13,26.88 59.81,25.89 61.46,25.86" fill="#fff200"/>
<polygon points="60.95,36.3 63.45,36.3 62.95,45 62.85,69.0 61.6,69.0 61.5,45" fill="#fff"/>
<circle cx="62.2" cy="36.5" r="1.2" fill="#fff"/>
<path d="M63.3,43.2 C65.8,43.0 68.0,44.8 67.7,46.9 C67.4,49.0 65.0,49.4 62.8,50.4 C60.0,51.6 57.6,52.6 57.9,54.4 C58.2,56.2 60.4,56.8 62.2,57.5 C64.2,58.3 66.1,59.4 65.9,61.0 C65.7,62.6 64.0,63.4 62.2,64.2 C61.0,64.8 60.4,65.4 61.2,66.0 C62.0,66.5 63.4,66.6 64.6,66.8" stroke="#fff" stroke-width="1.5" stroke-linecap="round" stroke-linejoin="round" fill="none"/>
<path d="M54.2,49.3 C54.4,45.8 57.0,43.4 59.9,42.9 C59.8,46.2 57.6,48.6 54.2,49.3 Z" fill="#fff"/>
<path id="tp" d="M49.75,22.81 A26.1,26.1 0 0 1 76.41,24.09" fill="none"/>
<text font-family="Liberation Serif, serif" font-weight="bold" font-size="6.7" fill="#2e3192" stroke="#2e3192" stroke-width="0.25"><textPath href="#tp" textLength="28.02" lengthAdjust="spacing">BỘ Y TẾ</textPath></text>
<path id="bp" d="M38.25,65.78 A31.0,31.0 0 0 0 85.75,65.78" fill="none"/>
<text font-family="Liberation Sans, sans-serif" font-weight="bold" font-style="italic" font-size="5.6" fill="#2e3192"><textPath href="#bp" textLength="54.11" lengthAdjust="spacingAndGlyphs">MINISTRY OF HEALTH</textPath></text>
</g>
<rect x="0" y="474" width="770" height="1" fill="#c2c2c2"/>
<rect x="0" y="0" width="770" height="1" fill="#606060"/>
<rect x="0" y="0" width="1" height="475" fill="#303030"/>
<rect x="768.6" y="0" width="1.4" height="475" fill="#000"/>
</svg>
</body></html>
